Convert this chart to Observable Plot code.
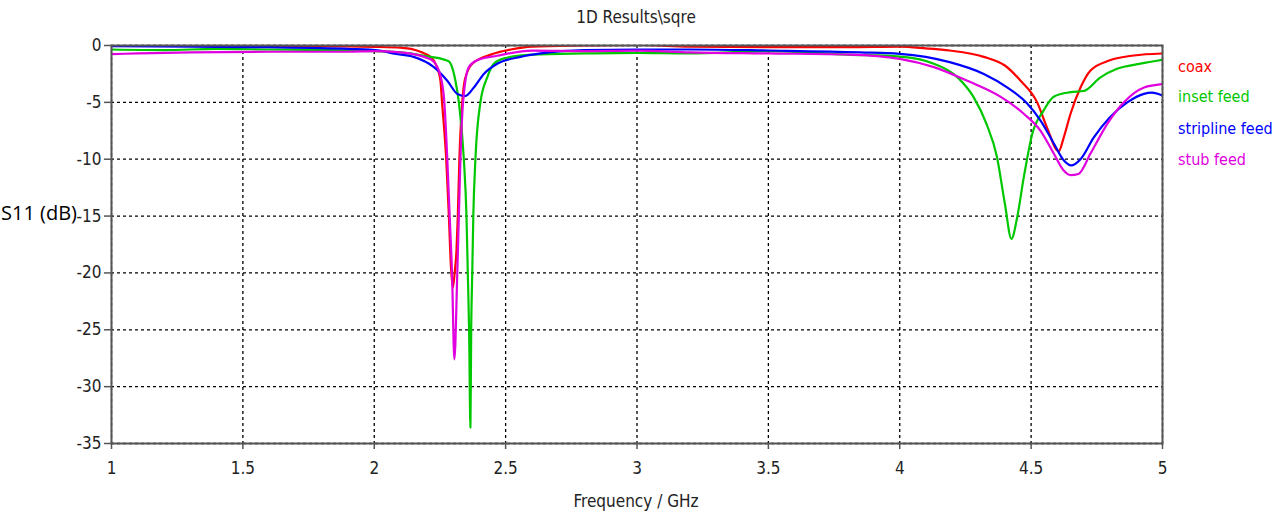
<!DOCTYPE html>
<html>
<head>
<meta charset="utf-8">
<script src="https://cdn.jsdelivr.net/npm/d3@7"></script>
<script src="https://cdn.jsdelivr.net/npm/@observablehq/plot@0.6"></script>
<style>
  html, body { margin: 0; padding: 0; background: #fff; }
  #wrap { position: relative; width: 1280px; height: 514px; overflow: hidden; }
  .lbl { position: absolute; white-space: nowrap; font-family: "DejaVu Sans Condensed", "DejaVu Sans", sans-serif; font-stretch: condensed; color: #222; }
  #title { left: 0; width: 1272px; text-align: center; top: 7px; font-size: 17px; }
  #xlabel { left: 0; width: 1272px; text-align: center; top: 491px; font-size: 17px; }
  #ylabel { left: 1px; top: 199px; font-family: "Open Sans", sans-serif; font-stretch: normal; font-size: 20px; color: #000; }
  .leg { left: 1178px; font-size: 16px; }
</style>
</head>
<body>
<div id="wrap">
  <div id="chart"></div>
  <div id="title" class="lbl">1D Results\sqre</div>
  <div id="xlabel" class="lbl">Frequency / GHz</div>
  <div id="ylabel" class="lbl">S11 (dB)</div>
  <div id="legend"></div>
</div>
<script>
// ---- data ----
const seriesNames = ["coax", "inset feed", "stripline feed", "stub feed"];
const seriesColors = ["#ff0000", "#00c800", "#0000ff", "#e000e0"];
const xTicks = [1, 1.5, 2, 2.5, 3, 3.5, 4, 4.5, 5];
const yTicks = [0, -5, -10, -15, -20, -25, -30, -35];

const coaxFreq = [1.0, 1.3, 1.6, 1.9, 2.0, 2.1, 2.14, 2.18, 2.214, 2.233, 2.252, 2.258, 2.265, 2.274, 2.284, 2.292, 2.299, 2.306, 2.313, 2.318, 2.324, 2.335, 2.345, 2.373, 2.45, 2.52, 2.6, 2.8, 3.0, 3.2, 3.5, 3.8, 4.0, 4.1, 4.19, 4.32, 4.40, 4.46, 4.523, 4.56, 4.605, 4.624, 4.65, 4.688, 4.726, 4.80, 4.89, 5.0];
const coaxS11 = [0.0, -0.02, -0.05, -0.08, -0.12, -0.2, -0.3, -0.6, -1.0, -1.6, -3.1, -5.0, -7.0, -10.0, -15.0, -19.5, -21.3, -20.0, -18.0, -15.0, -10.0, -5.0, -3.0, -1.6, -0.75, -0.35, -0.1, 0.0, 0.05, -0.1, -0.15, -0.15, -0.1, -0.25, -0.44, -1.0, -1.76, -3.1, -5.0, -7.2, -9.3, -8.1, -6.0, -3.7, -2.2, -1.3, -0.88, -0.7];

const insetFreq = [1.0, 1.2, 1.4, 1.6, 1.8, 2.0, 2.1, 2.214, 2.26, 2.284, 2.30, 2.309, 2.322, 2.341, 2.351, 2.356, 2.361, 2.366, 2.369, 2.373, 2.377, 2.385, 2.404, 2.43, 2.455, 2.5, 2.6, 2.8, 3.0, 3.2, 3.5, 3.8, 4.0, 4.13, 4.22, 4.28, 4.33, 4.37, 4.40, 4.425, 4.447, 4.472, 4.504, 4.548, 4.586, 4.65, 4.70, 4.764, 4.827, 4.916, 5.0];
const insetS11 = [-0.35, -0.4, -0.3, -0.35, -0.4, -0.5, -0.6, -1.0, -1.2, -1.4, -2.2, -3.1, -5.0, -10.0, -15.0, -20.0, -25.0, -33.6, -25.0, -20.0, -15.0, -10.0, -5.0, -2.8, -1.6, -1.1, -0.8, -0.7, -0.65, -0.7, -0.5, -0.8, -0.97, -1.6, -2.8, -4.5, -6.9, -9.8, -13.9, -17.0, -15.1, -11.6, -7.8, -5.7, -4.5, -4.1, -4.0, -2.8, -2.05, -1.6, -1.26];

const striplineFreq = [1.0, 1.3, 1.6, 1.9, 2.02, 2.07, 2.15, 2.227, 2.278, 2.316, 2.345, 2.379, 2.417, 2.468, 2.557, 2.633, 2.8, 3.0, 3.2, 3.5, 3.85, 4.0, 4.19, 4.32, 4.41, 4.485, 4.536, 4.586, 4.624, 4.652, 4.688, 4.738, 4.80, 4.866, 4.929, 4.96, 5.0];
const striplineS11 = [-0.05, -0.1, -0.15, -0.3, -0.44, -0.7, -1.0, -1.9, -3.1, -4.25, -4.45, -3.7, -2.5, -1.6, -1.0, -0.7, -0.4, -0.35, -0.35, -0.44, -0.6, -0.73, -1.46, -2.5, -3.7, -5.1, -6.6, -8.6, -10.1, -10.55, -10.0, -8.1, -6.3, -5.0, -4.25, -4.15, -4.4];

const stubFreq = [1.0, 1.1, 1.3, 1.6, 1.9, 2.0, 2.1, 2.214, 2.246, 2.265, 2.278, 2.287, 2.296, 2.305, 2.316, 2.322, 2.328, 2.338, 2.36, 2.392, 2.468, 2.6, 2.8, 3.0, 3.2, 3.5, 3.81, 4.0, 4.13, 4.257, 4.383, 4.472, 4.536, 4.586, 4.624, 4.65, 4.68, 4.726, 4.79, 4.853, 4.93, 5.0];
const stubS11 = [-0.75, -0.7, -0.6, -0.55, -0.55, -0.5, -0.6, -1.2, -2.2, -4.5, -10.0, -15.0, -20.0, -27.6, -20.0, -15.0, -10.0, -5.0, -1.9, -1.3, -0.9, -0.45, -0.5, -0.45, -0.6, -0.7, -0.8, -1.17, -1.9, -3.1, -4.5, -6.0, -7.5, -9.5, -11.0, -11.4, -11.3, -9.5, -6.9, -5.0, -3.7, -3.4];

// ---- build table ----
const freqs = [coaxFreq, insetFreq, striplineFreq, stubFreq];
const vals = [coaxS11, insetS11, striplineS11, stubS11];
const rows = [];
seriesNames.forEach((name, i) => {
  freqs[i].forEach((f, j) => rows.push({series: name, f, s: vals[i][j]}));
});

const fontFam = "'DejaVu Sans Condensed', 'DejaVu Sans', sans-serif";

const chart = Plot.plot({
  width: 1280,
  height: 514,
  marginTop: 45,
  marginBottom: 71,
  marginLeft: 111,
  marginRight: 118,
  style: {fontFamily: fontFam, fontSize: "17px", color: "#222", background: "#fff", fontStretch: "condensed"},
  x: {domain: [1, 5]},
  y: {domain: [-35, 0]},
  color: {domain: seriesNames, range: seriesColors},
  marks: [
    Plot.gridX(xTicks, {stroke: "#000", strokeOpacity: 1, strokeDasharray: "3,3", strokeWidth: 1.3}),
    Plot.gridY(yTicks, {stroke: "#000", strokeOpacity: 1, strokeDasharray: "3,3", strokeWidth: 1.3}),
    Plot.axisX(xTicks, {tickSize: 6, tickPadding: 12, tickFormat: d => String(d), label: null, stroke: "#555", strokeWidth: 1.5, fontSize: 17}),
    Plot.axisY(yTicks, {tickSize: 7, tickPadding: 3, tickFormat: d => String(d), label: null, stroke: "#555", strokeWidth: 1.5, fontSize: 17}),
    Plot.line(rows, {x: "f", y: "s", z: "series", stroke: "series", strokeWidth: 2.2, curve: "monotone-x", clip: true}),
    Plot.frame({stroke: "#555", strokeWidth: 2})
  ]
});
document.getElementById("chart").appendChild(chart);

// legend
const legTops = [57, 87, 119, 150];
const leg = document.getElementById("legend");
seriesNames.forEach((n, i) => {
  const d = document.createElement("div");
  d.className = "lbl leg";
  d.style.top = legTops[i] + "px";
  d.style.color = seriesColors[i];
  d.textContent = n;
  leg.appendChild(d);
});
</script>
</body>
</html>
